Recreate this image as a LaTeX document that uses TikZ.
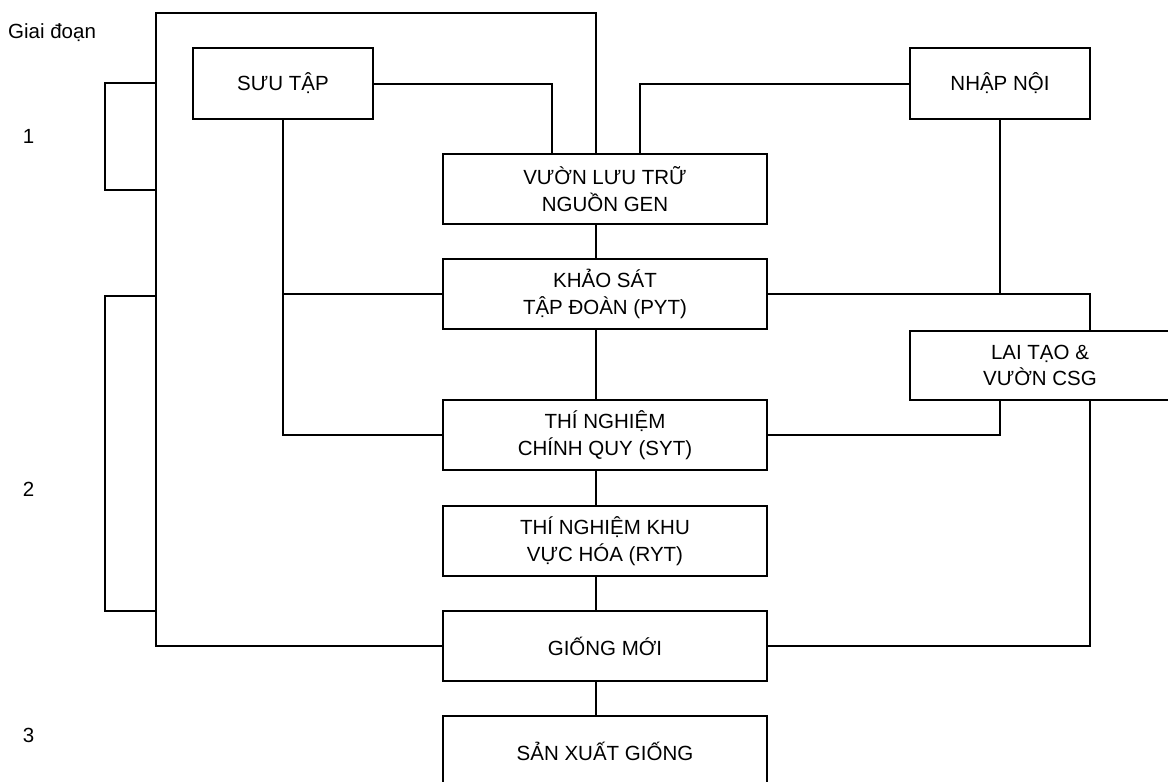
\documentclass[tikz,border=0pt]{standalone}
\usepackage{fontspec}
\setmainfont{Liberation Sans}
\usetikzlibrary{positioning,calc}
\tikzset{main base/.style={draw,line width=2pt,align=center,inner sep=0pt,outer sep=0pt,
    font=\fontsize{20.5}{26.7}\selectfont}, }
\tikzset{main node/.style={rectangle,main base,minimum width=324pt,minimum height=70pt}, }
\tikzset{side node/.style={rectangle,main base,minimum width=180pt,minimum height=71pt}, }
\tikzset{stage/.style={font=\fontsize{20.5}{26.7}\selectfont,inner sep=0pt}, }
\tikzset{linea/.style={line width=2pt,draw}}

\begin{document}
\begin{tikzpicture}[x=1pt,y=-1pt]
  \useasboundingbox (0,0) rectangle (1168,782);
  % stage labels
  \node[stage,anchor=base west] (gd) at (8,38) {Giai đoạn};
  \node[stage,anchor=base] (g1) at (28.5,143) {1};
  \node[stage,anchor=base] (g2) at (28.5,496) {2};
  \node[stage,anchor=base] (g3) at (28.5,742) {3};
  %
  \node[main node] (vuon) at (605,189) {VƯỜN LƯU TRỮ\\NGUỒN GEN};
  \node[main node] (khao) [below=35pt of vuon] {KHẢO SÁT\\TẬP ĐOÀN (PYT)};
  \node[main node] (thi) [below=71pt of khao] {THÍ NGHIỆM\\CHÍNH QUY (SYT)};
  \node[main node] (ryt) [below=36pt of thi] {THÍ NGHIỆM KHU\\VỰC HÓA (RYT)};
  \node[main node] (giong) [below=35pt of ryt] {GIỐNG MỚI};
  \node[main node] (sanxuat) [below=35pt of giong] {SẢN XUẤT GIỐNG};
%
  \node[side node] (suutap) at (283,83.5) {SƯU TẬP};
  \node[side node] (nhap) at (1000,83.5) {NHẬP NỘI};
  \node[side node,minimum width=260pt,minimum height=69pt] (lai) at (1040,365.5) {LAI TẠO \&\\VƯỜN CSG};
%
  \coordinate (topL) at (156,13);
  \coordinate (b1) at (105,83);
  \coordinate (b2) at (105,190);
  \coordinate (b3) at (105,296);
  \coordinate (b4) at (105,611);
%
\foreach \x/\y in {vuon/khao,khao/thi,thi/ryt,ryt/giong,giong/sanxuat}
  \path[linea] ([xshift=-9pt]\x.south) -- ([xshift=-9pt]\y.north);
%
  \path[linea] ([xshift=-9pt]vuon.north) |- (topL) |- (giong.west);
  \path[linea] (suutap.east) -| ([xshift=-53pt]vuon.north);
  \path[linea] (nhap.west) -| ([xshift=35pt]vuon.north);
  \path[linea] (suutap.south) |- (thi.west);
  \path[linea] (suutap.south |- khao.west) -- (khao.west);
  \path[linea] (khao.east) -| ([xshift=50pt]lai.north);
  \path[linea] (nhap.south) -- (nhap.south |- khao.east);
  \path[linea] ([xshift=-40pt]lai.south) |- (thi.east);
  \path[linea] ([xshift=50pt]lai.south) |- (giong.east);
%
  \path[linea] (topL |- b1) -- (b1) -- (b2) -- (topL |- b2);
  \path[linea] (topL |- b3) -- (b3) -- (b4) -- (topL |- b4);
\end{tikzpicture}
\end{document}
